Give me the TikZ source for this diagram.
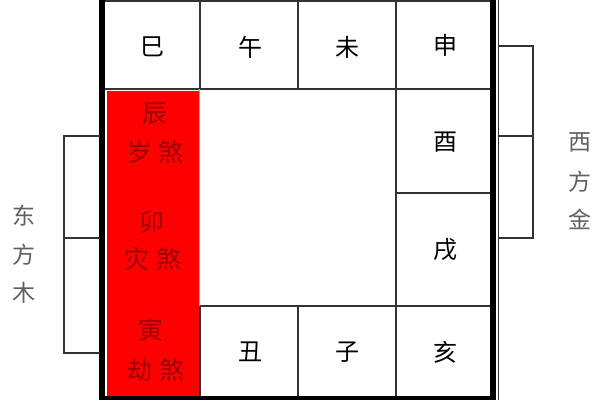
\documentclass[tikz,border=0pt]{standalone}
\usepackage{fontspec}
\newfontfamily\cjk{Noto Sans CJK SC}
\definecolor{gridc}{HTML}{333333}
\definecolor{redfill}{HTML}{FF0000}
\definecolor{redtext}{HTML}{9A0000}
\definecolor{sidetext}{HTML}{606060}
\begin{document}
\begin{tikzpicture}[x=1pt,y=-1pt,
  gridline/.style={draw=gridc,line width=1.4pt},
  thick frame/.style={draw=black,line width=6pt},
  bracket/.style={draw=gridc,line width=1.3pt},
  cell/.style={font=\cjk\fontsize{24}{24}\selectfont,text=black,inner sep=0pt},
  redlabel/.style={font=\cjk\fontsize{25}{25}\selectfont,text=redtext,inner sep=0pt},
  sidelabel/.style={font=\cjk\fontsize{23}{23}\selectfont,text=sidetext,inner sep=0pt}]
\useasboundingbox (0,0) rectangle (600,400);
\fill[white] (0,0) rectangle (600,400);
% red column
\fill[redfill] (107,91) rectangle (199,400);
% grid lines
\draw[gridline] (102,1) -- (494,1);
\draw[gridline] (102,89) -- (494,89);
\draw[gridline] (396,193) -- (494,193);
\draw[gridline] (200,306) -- (494,306);
\draw[gridline] (200,0) -- (200,89);
\draw[gridline] (298,0) -- (298,89);
\draw[gridline] (396,0) -- (396,400);
\draw[draw=gridc!40,line width=0.6pt] (199.5,89) -- (199.5,306);
\draw[gridline] (200,306) -- (200,400);
\draw[gridline] (298,306) -- (298,400);
% thick frame
\draw[thick frame] (102,0) -- (102,400);
\draw[thick frame] (493,0) -- (493,400);
\draw[draw=black,line width=4pt] (102,398) -- (493,398);
\draw[draw=gridc,line width=0.8pt] (498,0) -- (498,400);
% brackets
\draw[bracket] (100,136) -- (64,136) -- (64,353) -- (100,353);
\draw[bracket] (64,238) -- (100,238);
\draw[bracket] (498,46) -- (533,46) -- (533,238) -- (498,238);
\draw[bracket] (498,136) -- (533,136);
% cell labels
\node[cell] (si) at (152,47) {巳};
\node[cell] (wu) at (250,47) {午};
\node[cell] (wei) at (347,47) {未};
\node[cell] (shen) at (445,45) {申};
\node[cell] (you) at (445,142) {酉};
\node[cell] (xu) at (445,250) {戌};
\node[cell] (hai) at (445,352) {亥};
\node[cell] (zi) at (347,352) {子};
\node[cell] (chou) at (250,352) {丑};
% red labels
\node[redlabel] (chen) at (155,114) {辰};
\node[redlabel] (sui) at (140,152) {岁};
\node[redlabel] (sha1) at (171,152) {煞};
\node[redlabel] (mao) at (152,222) {卯};
\node[redlabel] (zai) at (137,259) {灾};
\node[redlabel] (sha2) at (169,259) {煞};
\node[redlabel] (yin) at (151,330) {寅};
\node[redlabel] (jie) at (140,370) {劫};
\node[redlabel] (sha3) at (172,370) {煞};
% side labels
\node[sidelabel] (dong) at (24,216) {东};
\node[sidelabel] (fang1) at (24,255) {方};
\node[sidelabel] (mu) at (24,293) {木};
\node[sidelabel] (xi) at (580,142) {西};
\node[sidelabel] (fang2) at (580,182) {方};
\node[sidelabel] (jin) at (580,219) {金};
\end{tikzpicture}
\end{document}
